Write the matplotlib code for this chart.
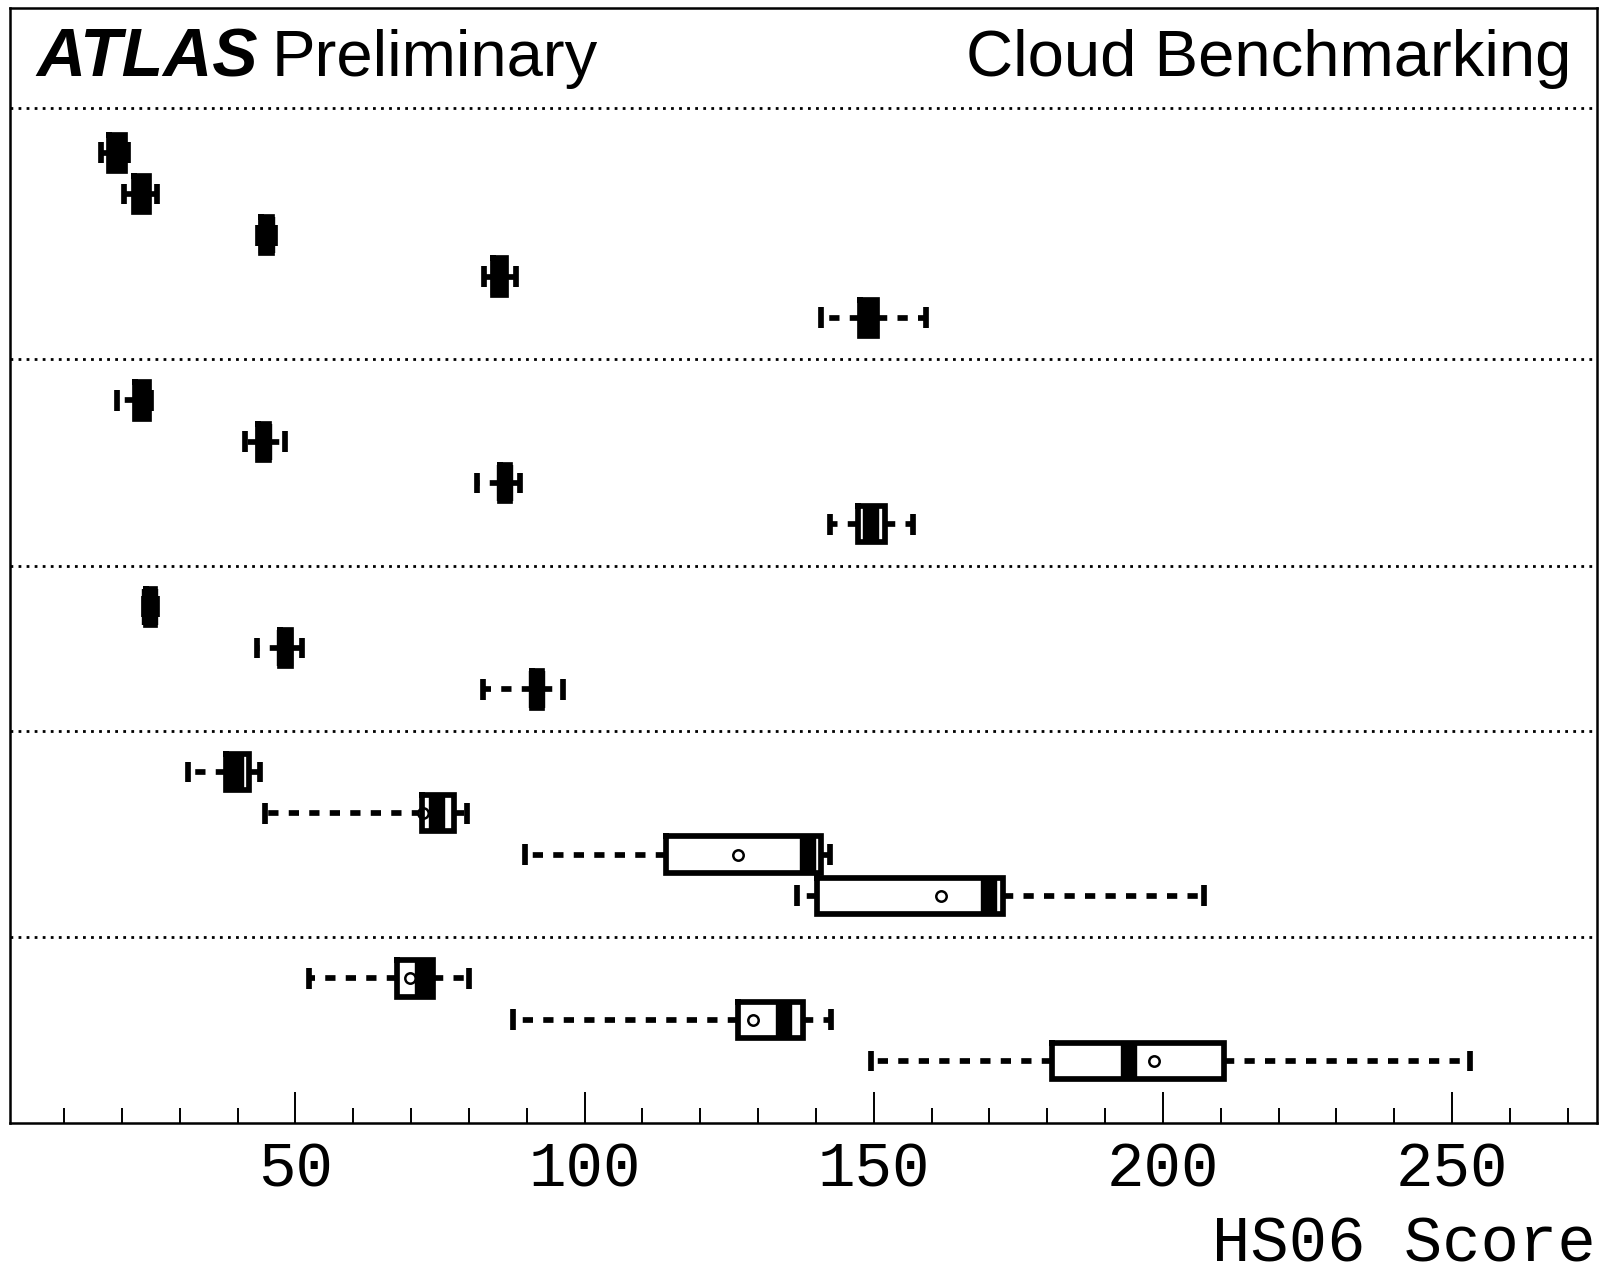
import matplotlib
matplotlib.use("Agg")
import matplotlib.pyplot as plt

# rows counted from the top (y axis inverted); dotted lines split the groups
rows    = [3, 4, 5, 6, 7, 9, 10, 11, 12, 14, 15, 16, 18, 19, 20, 21, 23, 24, 25]
whislo  = [16.3, 20.4, 43.5, 82.6, 140.8, 19.1, 41.3, 81.4, 142.5, 23.8, 43.3, 82.5,
           31.4, 44.7, 89.7, 136.7, 52.3, 87.7, 149.5]
q1      = [17.8, 22.1, 44.0, 84.2, 147.7, 22.3, 43.6, 85.3, 147.3, 24.2, 47.4, 90.9,
           38.0, 71.9, 114.1, 140.1, 67.6, 126.6, 180.8]
median  = [19.2, 23.4, 45.0, 85.2, 149.2, 23.5, 44.5, 86.2, 149.5, 24.9, 48.2, 91.8,
           39.7, 74.5, 138.7, 169.9, 72.0, 134.4, 194.1]
q3      = [20.6, 24.7, 46.0, 86.4, 150.6, 24.7, 45.4, 87.1, 151.9, 25.7, 49.2, 92.6,
           41.9, 77.5, 140.8, 172.4, 73.8, 137.7, 210.5]
whishi  = [21.0, 26.1, 46.5, 88.1, 159.0, 25.0, 48.2, 88.8, 156.8, 26.0, 51.2, 96.2,
           43.8, 79.6, 142.5, 207.1, 80.0, 142.6, 253.1]
mean    = [19.2, 23.4, 45.0, 85.2, 149.2, 23.5, 44.5, 86.2, 149.5, 24.9, 48.2, 91.8,
           39.7, 72.0, 126.6, 161.6, 69.8, 129.2, 198.4]
separators = [1.93, 8, 13, 17, 22]
xticks_major = [50, 100, 150, 200, 250]

stats = []
for i in range(len(rows)):
    stats.append(dict(whislo=whislo[i], q1=q1[i], med=median[i], q3=q3[i],
                      whishi=whishi[i], mean=mean[i], fliers=[]))

fig = plt.figure(figsize=(16.08, 12.76), dpi=100)
ax = fig.add_axes([0.0064, 0.12, 0.9866, 0.8736])

lw = 4.1
ax.bxp(stats, positions=rows, widths=0.88, capwidths=0.5, orientation='horizontal',
       showmeans=True, showfliers=False,
       boxprops=dict(color='black', linewidth=lw, solid_joinstyle='miter',
                     solid_capstyle='projecting', zorder=3),
       whiskerprops=dict(color='black', linewidth=lw, linestyle=(0, (1.8, 1.8))),
       capprops=dict(color='black', linewidth=lw, solid_capstyle='butt'),
       medianprops=dict(color='black', linewidth=11.8, solid_capstyle='butt', zorder=3),
       meanprops=dict(marker='o', markersize=7.5, markerfacecolor='white',
                      markeredgecolor='black', markeredgewidth=1.8, zorder=2.5))

for s in separators:
    ax.axhline(s, color='black', linewidth=2.0, linestyle=(0, (1, 1.9)))

ax.set_ylim(26.5, -0.5)
ax.set_xlim(0.7, 275)
ax.set_yticks([])
ax.set_xticks(xticks_major)
ax.set_xticks(range(10, 275, 10), minor=True)
ax.tick_params(axis='x', which='major', direction='in', length=22, width=1.4, pad=13,
               labelsize=45, top=False)
ax.tick_params(axis='x', which='minor', direction='in', length=11, width=1.4, top=False)
for lab in ax.get_xticklabels():
    lab.set_fontfamily('Liberation Mono')
for sp in ax.spines.values():
    sp.set_linewidth(1.8)

ax.text(0.0162, 0.939, 'ATLAS', transform=ax.transAxes, fontsize=49,
        fontfamily='Liberation Sans', fontweight='bold', fontstyle='italic', va='baseline')
ax.text(0.165, 0.939, 'Preliminary', transform=ax.transAxes, fontsize=47,
        fontfamily='Liberation Sans', va='baseline')
ax.text(0.984, 0.939, 'Cloud Benchmarking', transform=ax.transAxes, fontsize=47,
        fontfamily='Liberation Sans', va='baseline', ha='right')

fig.text(0.9925, 0.001, 'HS06 Score', fontsize=46, fontfamily='Liberation Mono',
         ha='right', va='bottom')

fig.savefig('out.png', dpi=100)
